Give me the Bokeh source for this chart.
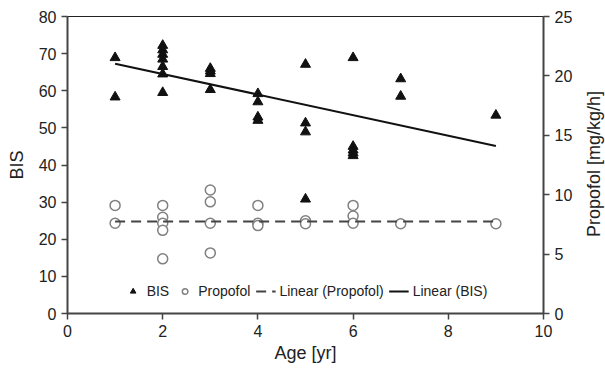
from bokeh.plotting import figure
from bokeh.models import Range1d, LinearAxis, FixedTicker, Legend, LegendItem, Div
from bokeh.layouts import row
from bokeh.embed import file_html
from bokeh.resources import INLINE

# BIS data (left axis)
bis_age = [1, 1, 2, 2, 2, 2, 2, 2, 2, 3, 3, 3, 3, 4, 4, 4, 4, 5, 5, 5, 5, 6, 6, 6, 6, 6, 7, 7, 9]
bis_val = [68.9, 58.3, 72.2, 71.0, 69.8, 68.5, 66.5, 64.5, 59.5, 66.0, 65.3, 64.6, 60.3,
           59.2, 57.0, 52.9, 52.0, 67.1, 51.3, 48.9, 30.8, 68.9, 45.0, 44.0, 43.2, 42.5, 63.2, 58.5, 53.4]

# Propofol data (right axis)
prop_age = [1, 1, 2, 2, 2, 2, 2, 3, 3, 3, 3, 4, 4, 4, 5, 5, 6, 6, 6, 7, 9]
prop_val = [9.1, 7.6, 9.1, 8.1, 7.6, 7.0, 4.6, 10.4, 9.4, 7.6, 5.1, 9.1, 7.6, 7.4, 7.8, 7.55, 9.1, 8.2, 7.6, 7.55, 7.55]

# Trend lines
trend_x = [1, 9]
bis_trend = [67.3, 45.1]
prop_trend = [7.75, 7.75]

x_ticks = [0, 2, 4, 6, 8, 10]
bis_ticks = [0, 10, 20, 30, 40, 50, 60, 70, 80]
prop_ticks = [0, 5, 10, 15, 20, 25]
right_title = "Propofol [mg/kg/h]"

FONT = "Liberation Sans"
AX = "#444444"
TXT = "#222222"

p = figure(width=575, height=369, output_backend="svg", toolbar_location=None,
           x_range=Range1d(0, 10), y_range=Range1d(0, 80),
           min_border_left=67, min_border_right=31, min_border_top=16, min_border_bottom=56)
p.extra_y_ranges = {"prop": Range1d(0, 25)}
p.xgrid.visible = False
p.ygrid.visible = False
p.outline_line_color = "#222222"
p.outline_line_width = 1
p.background_fill_color = "white"
p.border_fill_color = "white"

def style_axis(ax, label, standoff):
    ax.axis_label = label
    ax.axis_label_text_font = FONT
    ax.axis_label_text_font_size = "18px"
    ax.axis_label_text_font_style = "normal"
    ax.axis_label_text_color = TXT
    ax.axis_label_standoff = standoff
    ax.major_label_text_font = FONT
    ax.major_label_text_font_size = "16px"
    ax.major_label_text_color = TXT
    ax.major_label_standoff = 5
    ax.axis_line_color = AX
    ax.axis_line_width = 2
    ax.major_tick_line_color = AX
    ax.major_tick_line_width = 1.5
    ax.major_tick_out = 6
    ax.major_tick_in = 0
    ax.minor_tick_line_color = None

style_axis(p.xaxis[0], "Age [yr]", 3)
p.xaxis[0].ticker = FixedTicker(ticks=x_ticks)
style_axis(p.yaxis[0], "BIS", 9)
p.yaxis[0].ticker = FixedTicker(ticks=bis_ticks)

ry = LinearAxis(y_range_name="prop")
style_axis(ry, None, 10)
ry.ticker = FixedTicker(ticks=prop_ticks)
p.add_layout(ry, "right")

r_bis = p.scatter(bis_age, bis_val, marker="triangle", size=10,
                  fill_color="#111111", line_color="#111111")
r_prop = p.scatter(prop_age, prop_val, marker="circle", size=10, y_range_name="prop",
                   fill_color="white", line_color="#808080", line_width=1.5)
r_lp = p.line(trend_x, prop_trend, y_range_name="prop", line_color="#444444",
              line_width=2, line_dash="10 6")
r_lb = p.line(trend_x, bis_trend, line_color="#111111", line_width=2)

legend = Legend(items=[
    LegendItem(label="BIS", renderers=[r_bis]),
    LegendItem(label="Propofol", renderers=[r_prop]),
    LegendItem(label="Linear (Propofol)", renderers=[r_lp]),
    LegendItem(label="Linear (BIS)", renderers=[r_lb]),
], location="bottom_center", orientation="horizontal")
legend.border_line_alpha = 0
legend.background_fill_alpha = 0
legend.label_text_font = FONT
legend.label_text_font_size = "14px"
legend.label_text_color = TXT
legend.glyph_width = 20
legend.glyph_height = 14
legend.label_standoff = 4
legend.spacing = 5
legend.padding = 4
legend.margin = 10
p.add_layout(legend, "center")

# right axis title (reads bottom-to-top, as in the reference)
title_div = Div(
    text=('<div style="position:absolute;left:14px;top:159px;'
          'transform:translate(-50%,-50%) rotate(-90deg);white-space:nowrap;'
          "font-family:'Liberation Sans';font-size:18px;color:#222222;line-height:1;\">"
          + right_title + '</div>'),
    width=30, height=369, styles={"background-color": "white"})

layout = row(p, title_div, spacing=0)
open("out.html", "w").write(file_html(layout, INLINE))
